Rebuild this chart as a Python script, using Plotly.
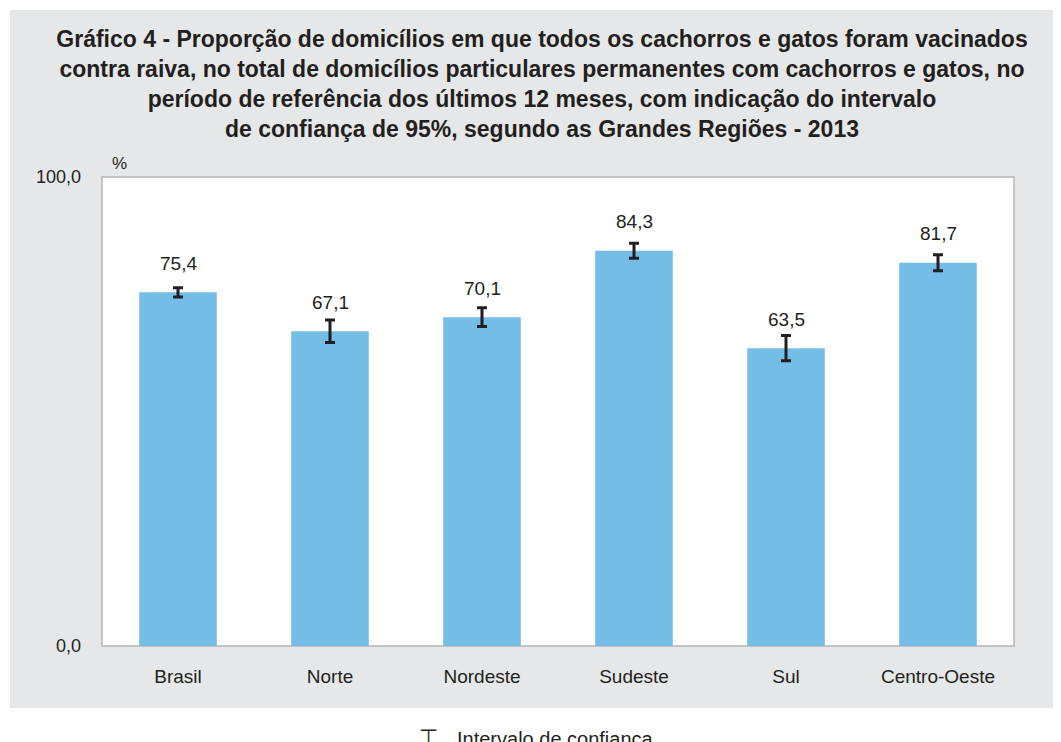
import plotly.graph_objects as go

regioes = ["Brasil", "Norte", "Nordeste", "Sudeste", "Sul", "Centro-Oeste"]
proporcao = [75.4, 67.1, 70.1, 84.3, 63.5, 81.7]
erro_ic = [1.0, 2.4, 2.0, 1.6, 2.7, 1.7]
rotulos = ["75,4", "67,1", "70,1", "84,3", "63,5", "81,7"]
y_ticks = [0, 100]
y_ticktext = ["0,0", "100,0"]

# page body has an 8px margin, so the figure is drawn 8px smaller and
# all reference pixel positions are shifted by that amount
OFF = 8
W, H = 1061 - OFF, 742 - OFF
L, R, T, B = 102 - OFF, 47, 177 - OFF, 96
pw, ph = W - L - R, H - T - B


def px_x(x):
    return (x - OFF - L) / pw


def px_y(y):
    return (H - B - (y - OFF)) / ph


TXT = "#231f20"
FONT = "Liberation Sans, Arial, sans-serif"

fig = go.Figure()

fig.add_trace(
    go.Bar(
        x=regioes,
        y=proporcao,
        marker=dict(color="#74bde7", line=dict(width=0)),
        error_y=dict(type="data", array=erro_ic, color=TXT, thickness=3, width=5),
        showlegend=False,
        hovertemplate="%{x}: %{y:.1f}%<extra></extra>",
    )
)

# value labels above the bars
for reg, val, lab in zip(regioes, proporcao, rotulos):
    fig.add_annotation(
        x=reg, y=val, text=lab, showarrow=False, yshift=29,
        yanchor="middle", font=dict(size=19, color=TXT, family=FONT),
    )

# gray panel + white plot frame
fig.add_shape(
    type="rect", xref="paper", yref="paper", layer="below",
    x0=px_x(10), x1=px_x(1061 + 5), y0=px_y(708), y1=px_y(10),
    fillcolor="#e6e7e8", line=dict(width=0),
)
fig.add_shape(
    type="rect", xref="paper", yref="paper", layer="below",
    x0=0, x1=1, y0=0, y1=1,
    fillcolor="white", line=dict(color="#b5b5b5", width=1.5),
)

fig.add_annotation(
    xref="paper", yref="paper", x=px_x(110), y=px_y(152), text="%",
    showarrow=False, font=dict(size=17, color=TXT, family=FONT),
)

# legend line at the very bottom (cut off in the original)
fig.add_annotation(
    xref="paper", yref="paper", x=px_x(428), y=px_y(737), text="⊤",
    showarrow=False, yanchor="middle",
    font=dict(size=22, color=TXT, family="DejaVu Sans"),
)
fig.add_annotation(
    xref="paper", yref="paper", x=px_x(455), y=px_y(739), text="Intervalo de confiança",
    showarrow=False, xanchor="left", yanchor="middle",
    font=dict(size=20, color=TXT, family=FONT),
)

fig.update_layout(
    width=W,
    height=H,
    margin=dict(l=L, r=R, t=T, b=B),
    paper_bgcolor="white",
    plot_bgcolor="rgba(0,0,0,0)",
    bargap=0.49,
    title=dict(
        text="<b>Gráfico 4 - Proporção de domicílios em que todos os cachorros e gatos foram vacinados<br>"
        "contra raiva, no total de domicílios particulares permanentes com cachorros e gatos, no<br>"
        "período de referência dos últimos 12 meses, com indicação do intervalo<br>"
        "de confiança de 95%, segundo as Grandes Regiões - 2013</b>",
        x=(542 - OFF) / W,
        xanchor="center",
        y=1 - (47 - OFF) / H,
        yanchor="top",
        font=dict(size=23, color=TXT, family=FONT),
    ),
    font=dict(family=FONT, color=TXT, size=18),
)

fig.update_xaxes(
    showgrid=False, showline=False, ticks="", ticklabelstandoff=17,
    tickfont=dict(size=19, color=TXT),
)
fig.update_yaxes(
    range=[0, 100], tickvals=y_ticks, ticktext=y_ticktext,
    showgrid=False, zeroline=False, showline=False, ticks="",
    ticklabelstandoff=20, tickfont=dict(size=18, color=TXT),
)

fig.write_html("out.html")
